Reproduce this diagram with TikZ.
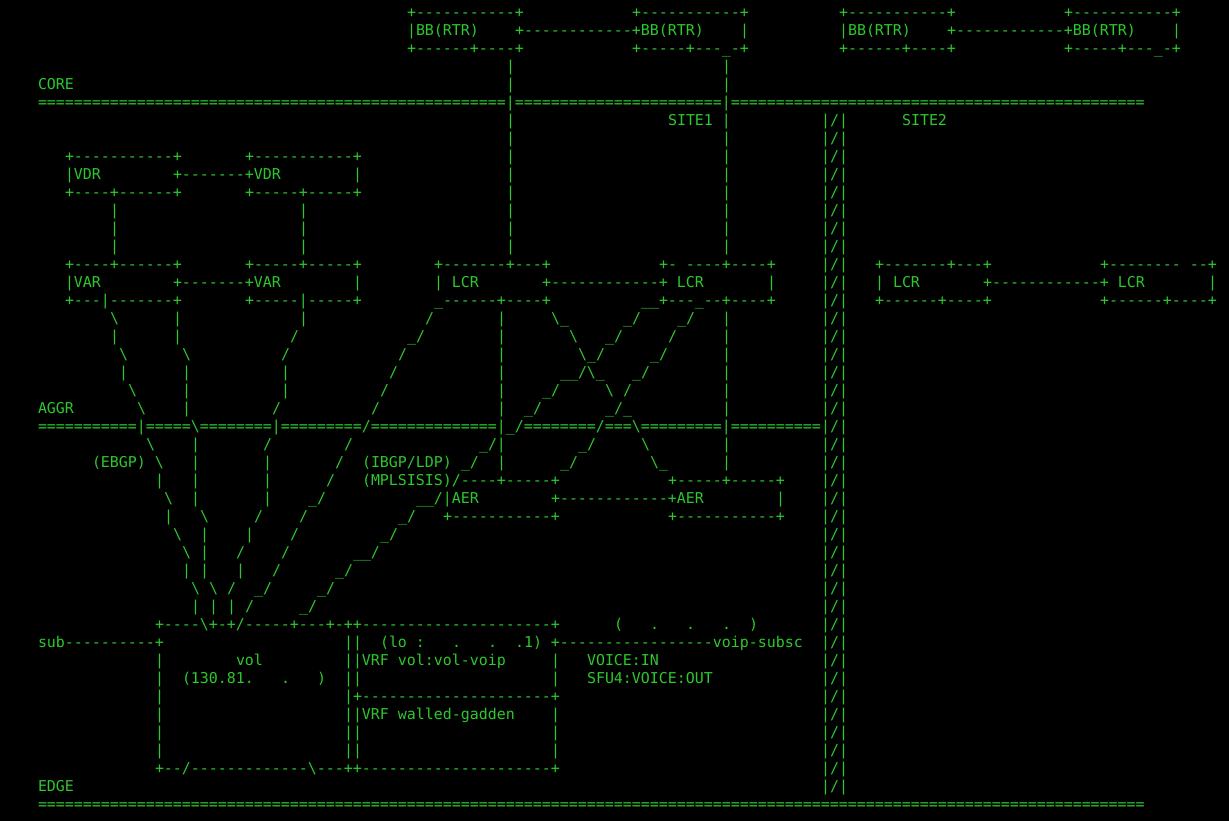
\documentclass[tikz,border=0pt]{standalone}
\usepackage{fontspec}
\setmonofont{DejaVu Sans Mono}
\definecolor{termgreen}{RGB}{45,200,45}
\ExplSyntaxOn
\NewDocumentCommand\Kr{mm}{\prg_replicate:nn{#1}{#2}}
\ExplSyntaxOff
\newcommand\Kb{\textbackslash}
\newcommand\Kt[3]{\node[txt] (r#1c#2) at ({38+9*#2},{17.5+18*#1}) {#3};}
\begin{document}
\begin{tikzpicture}[x=0.75pt,y=-0.75pt,
  txt/.style={anchor=base west,inner sep=0pt,outer sep=0pt,text=termgreen,
    font=\ttfamily\fontsize{11.21pt}{13pt}\selectfont}]
\fill[black] (0,0) rectangle (1229,821);
\useasboundingbox (0,0) rectangle (1229,821);
% row 0-2 : BB routers
\Kt{0}{41}{+\Kr{11}{-}+}
\Kt{0}{66}{+\Kr{11}{-}+}
\Kt{0}{89}{+\Kr{11}{-}+}
\Kt{0}{114}{+\Kr{11}{-}+}
\Kt{1}{41}{|BB(RTR)}
\Kt{1}{53}{+\Kr{12}{-}+BB(RTR)}
\Kt{1}{78}{|}
\Kt{1}{89}{|BB(RTR)}
\Kt{1}{101}{+\Kr{12}{-}+BB(RTR)}
\Kt{1}{126}{|}
\Kt{2}{41}{+------+----+}
\Kt{2}{66}{+-----+---\_-+}
\Kt{2}{89}{+------+----+}
\Kt{2}{114}{+-----+---\_-+}
\Kt{3}{52}{|} \Kt{3}{76}{|}
\Kt{4}{0}{CORE} \Kt{4}{52}{|} \Kt{4}{76}{|}
\Kt{5}{0}{\Kr{52}{=}|\Kr{23}{=}|\Kr{46}{=}}
\Kt{6}{52}{|} \Kt{6}{70}{SITE1 |} \Kt{6}{96}{SITE2}
\Kt{7}{52}{|} \Kt{7}{76}{|}
\foreach \rr in {6,...,43} {\Kt{\rr}{87}{|/|}}
% VDR
\Kt{8}{3}{+\Kr{11}{-}+} \Kt{8}{23}{+\Kr{11}{-}+} \Kt{8}{52}{|} \Kt{8}{76}{|}
\Kt{9}{3}{|VDR} \Kt{9}{15}{+-------+VDR} \Kt{9}{35}{|} \Kt{9}{52}{|} \Kt{9}{76}{|}
\Kt{10}{3}{+----+------+} \Kt{10}{23}{+-----+-----+} \Kt{10}{52}{|} \Kt{10}{76}{|}
\foreach \rr in {11,12,13} {\Kt{\rr}{8}{|} \Kt{\rr}{29}{|} \Kt{\rr}{52}{|} \Kt{\rr}{76}{|}}
% VAR / LCR
\Kt{14}{3}{+----+------+} \Kt{14}{23}{+-----+-----+} \Kt{14}{44}{+-------+---+}
\Kt{14}{69}{+- ----+----+} \Kt{14}{93}{+-------+---+} \Kt{14}{118}{+-------- --+}
\Kt{15}{3}{|VAR} \Kt{15}{15}{+-------+VAR} \Kt{15}{35}{|} \Kt{15}{44}{| LCR}
\Kt{15}{56}{+\Kr{12}{-}+ LCR} \Kt{15}{81}{|} \Kt{15}{93}{| LCR}
\Kt{15}{105}{+\Kr{12}{-}+ LCR} \Kt{15}{130}{|}
\Kt{16}{3}{+---|-------+} \Kt{16}{23}{+-----|-----+} \Kt{16}{44}{\_------+----+}
\Kt{16}{67}{\_\_+---\_--+----+} \Kt{16}{93}{+------+----+} \Kt{16}{118}{+------+----+}
% links
\Kt{17}{8}{\Kb} \Kt{17}{15}{|} \Kt{17}{29}{|} \Kt{17}{43}{/} \Kt{17}{51}{|}
\Kt{17}{57}{\Kb\_} \Kt{17}{65}{\_/} \Kt{17}{71}{\_/} \Kt{17}{76}{|}
\Kt{18}{8}{|} \Kt{18}{15}{|} \Kt{18}{28}{/} \Kt{18}{41}{\_/} \Kt{18}{51}{|}
\Kt{18}{59}{\Kb} \Kt{18}{63}{\_/} \Kt{18}{70}{/} \Kt{18}{76}{|}
\Kt{19}{9}{\Kb} \Kt{19}{16}{\Kb} \Kt{19}{27}{/} \Kt{19}{40}{/} \Kt{19}{51}{|}
\Kt{19}{60}{\Kb\_/} \Kt{19}{68}{\_/} \Kt{19}{76}{|}
\Kt{20}{9}{|} \Kt{20}{16}{|} \Kt{20}{27}{|} \Kt{20}{39}{/} \Kt{20}{51}{|}
\Kt{20}{58}{\_\_/\Kb\_} \Kt{20}{66}{\_/} \Kt{20}{76}{|}
\Kt{21}{10}{\Kb} \Kt{21}{16}{|} \Kt{21}{27}{|} \Kt{21}{38}{/} \Kt{21}{51}{|}
\Kt{21}{56}{\_/} \Kt{21}{63}{\Kb} \Kt{21}{65}{/} \Kt{21}{76}{|}
\Kt{22}{0}{AGGR} \Kt{22}{11}{\Kb} \Kt{22}{16}{|} \Kt{22}{26}{/} \Kt{22}{37}{/} \Kt{22}{51}{|}
\Kt{22}{54}{\_/} \Kt{22}{63}{\_/\_} \Kt{22}{76}{|}
\Kt{23}{0}{\Kr{11}{=}|\Kr{5}{=}\Kb\Kr{8}{=}|\Kr{9}{=}/\Kr{14}{=}|\_/\Kr{8}{=}/===\Kb\Kr{9}{=}|\Kr{10}{=}}
\Kt{24}{12}{\Kb} \Kt{24}{17}{|} \Kt{24}{25}{/} \Kt{24}{34}{/} \Kt{24}{49}{\_/|}
\Kt{24}{60}{\_/} \Kt{24}{67}{\Kb} \Kt{24}{76}{|}
\Kt{25}{6}{(EBGP) \Kb} \Kt{25}{17}{|} \Kt{25}{25}{|} \Kt{25}{33}{/}
\Kt{25}{36}{(IBGP/LDP) \_/} \Kt{25}{51}{|} \Kt{25}{58}{\_/} \Kt{25}{68}{\Kb\_} \Kt{25}{76}{|}
\Kt{26}{13}{|} \Kt{26}{17}{|} \Kt{26}{25}{|} \Kt{26}{32}{/}
\Kt{26}{36}{(MPLSISIS)/----+-----+} \Kt{26}{70}{+-----+-----+}
\Kt{27}{14}{\Kb} \Kt{27}{17}{|} \Kt{27}{25}{|} \Kt{27}{30}{\_/} \Kt{27}{42}{\_\_/|AER}
\Kt{27}{57}{+\Kr{12}{-}+AER} \Kt{27}{82}{|}
\Kt{28}{14}{|} \Kt{28}{18}{\Kb} \Kt{28}{24}{/} \Kt{28}{29}{/} \Kt{28}{40}{\_/}
\Kt{28}{45}{+\Kr{11}{-}+} \Kt{28}{70}{+\Kr{11}{-}+}
\Kt{29}{15}{\Kb} \Kt{29}{18}{|} \Kt{29}{23}{|} \Kt{29}{28}{/} \Kt{29}{38}{\_/}
\Kt{30}{16}{\Kb} \Kt{30}{18}{|} \Kt{30}{22}{/} \Kt{30}{27}{/} \Kt{30}{35}{\_\_/}
\Kt{31}{16}{|} \Kt{31}{18}{|} \Kt{31}{22}{|} \Kt{31}{26}{/} \Kt{31}{33}{\_/}
\Kt{32}{17}{\Kb} \Kt{32}{19}{\Kb} \Kt{32}{21}{/} \Kt{32}{24}{\_/} \Kt{32}{31}{\_/}
\Kt{33}{17}{|} \Kt{33}{19}{|} \Kt{33}{21}{|} \Kt{33}{23}{/} \Kt{33}{29}{\_/}
% EDGE boxes
\Kt{34}{13}{+----\Kb+-+/-----+---+-++\Kr{21}{-}+}
\Kt{34}{64}{(} \Kt{34}{68}{.} \Kt{34}{72}{.} \Kt{34}{76}{.} \Kt{34}{79}{)}
\Kt{35}{0}{sub\Kr{10}{-}+} \Kt{35}{34}{||} \Kt{35}{38}{(lo :} \Kt{35}{46}{.} \Kt{35}{50}{.}
\Kt{35}{53}{.1) +\Kr{17}{-}voip-subsc}
\Kt{36}{13}{|} \Kt{36}{22}{vol} \Kt{36}{34}{||VRF vol:vol-voip} \Kt{36}{57}{|} \Kt{36}{61}{VOICE:IN}
\Kt{37}{13}{|} \Kt{37}{16}{(130.81.} \Kt{37}{27}{.} \Kt{37}{31}{)} \Kt{37}{34}{||} \Kt{37}{57}{|}
\Kt{37}{61}{SFU4:VOICE:OUT}
\Kt{38}{13}{|} \Kt{38}{34}{|+\Kr{21}{-}+}
\Kt{39}{13}{|} \Kt{39}{34}{||VRF walled-gadden} \Kt{39}{57}{|}
\foreach \rr in {40,41} {\Kt{\rr}{13}{|} \Kt{\rr}{34}{||} \Kt{\rr}{57}{|}}
\Kt{42}{13}{+--/\Kr{13}{-}\Kb---++\Kr{21}{-}+}
\Kt{43}{0}{EDGE}
\Kt{44}{0}{\Kr{123}{=}}
\end{tikzpicture}
\end{document}
